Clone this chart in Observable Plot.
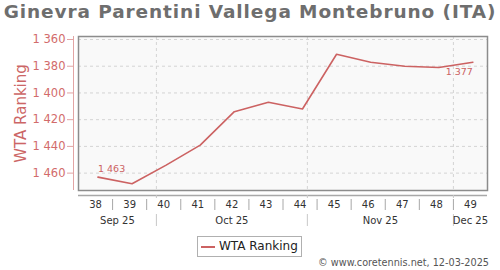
<!DOCTYPE html>
<html>
<head>
<meta charset="utf-8">
<script src="https://cdn.jsdelivr.net/npm/d3@7"></script>
<script src="https://cdn.jsdelivr.net/npm/@observablehq/plot@0.6"></script>
<style>
  html, body { margin: 0; padding: 0; background: #fff; }
  body { width: 500px; height: 270px; position: relative; overflow: hidden; font-family: "DejaVu Sans", sans-serif; }
  #title { position: absolute; left: 0; top: 1px; width: 500px; text-align: center; font-weight: bold; font-size: 18.5px; letter-spacing: 0.9px; line-height: 22px; color: #6e6e6e; white-space: nowrap; }
  #chart { position: absolute; left: 0; top: 28px; }
  #legend { position: absolute; left: 197px; top: 236px; width: 105px; height: 21px; box-sizing: border-box; border: 1px solid #b0b0b0; background: #fff; }
  #legend .sw { position: absolute; left: 3px; top: 9px; width: 14px; height: 2px; }
  #legend .lb { position: absolute; left: 21px; top: 1px; font-size: 12px; line-height: 17px; color: #222; }
  #credit { position: absolute; right: 11px; top: 256px; font-size: 9.7px; line-height: 13px; color: #555; white-space: nowrap; }
</style>
</head>
<body>
<div id="title"></div>
<div id="chart"></div>
<div id="legend"><span class="sw"></span><span class="lb"></span></div>
<div id="credit"></div>
<script>
// ---- data ----
const title = "Ginevra Parentini Vallega Montebruno (ITA)";
const seriesName = "WTA Ranking";
const credit = "© www.coretennis.net, 12-03-2025";
const year = 2025;
const weeks = [38, 39, 40, 41, 42, 43, 44, 45, 46, 47, 48, 49];
const ranks = [1463, 1468, 1454, 1439, 1414, 1407, 1412, 1371, 1377, 1380, 1381, 1377];
const yTicks = [1360, 1380, 1400, 1420, 1440, 1460];

// ---- derived ----
const lineColor = "#cc6262";
const weekMonday = w => new Date(Date.UTC(year - 1, 11, 30 + 7 * (w - 1)));
const DAY = 864e5;
const data = weeks.map((w, i) => ({week: w, rank: ranks[i], date: new Date(+weekMonday(w) + 4 * DAY)}));
const x0 = weekMonday(weeks[0]);
const x1 = new Date(+weekMonday(weeks[weeks.length - 1]) + 7 * DAY);
const weekCenters = weeks.map(w => ({week: w, date: new Date(+weekMonday(w) + 3.5 * DAY)}));
const weekBounds = weeks.slice(1).map(w => weekMonday(w));
const monthStarts = d3.utcMonth.range(new Date(+x0 + 1), x1);
const months = d3.utcMonth.range(d3.utcMonth.floor(x0), x1).map(m => {
  const a = Math.max(+m, +x0), b = Math.min(+d3.utcMonth.offset(m, 1), +x1);
  return {date: new Date((a + b) / 2), label: d3.utcFormat("%b %y")(m)};
});
const fmt = d => d3.format(",")(d).replace(/,/g, " ");
const yDomain = [1357.75, 1473];

document.getElementById("title").textContent = title;
document.querySelector("#legend .lb").textContent = seriesName;
document.querySelector("#legend .sw").style.background = lineColor;
document.getElementById("credit").textContent = credit;

const chart = Plot.plot({
  width: 500,
  height: 206,
  marginTop: 8,
  marginBottom: 44,
  marginLeft: 78,
  marginRight: 13,
  style: {fontFamily: "DejaVu Sans, sans-serif", background: "transparent", overflow: "visible"},
  x: {type: "utc", domain: [x0, x1]},
  y: {domain: yDomain, reverse: true},
  marks: [
    Plot.frame({fill: "#f9f9f9"}),
    Plot.gridY(yTicks, {stroke: "#d4d4d4", strokeOpacity: 1, strokeDasharray: "3,3"}),
    Plot.gridX(monthStarts, {stroke: "#d4d4d4", strokeOpacity: 1, strokeDasharray: "3,3"}),
    Plot.frame({stroke: "#8c8c8c", strokeWidth: 1.5}),
    // y axis
    Plot.ruleX([x0], {stroke: "#e2a4a4", dx: -5}),
    Plot.axisY(yTicks, {anchor: "left", tickSize: 6, tickPadding: 2, dx: -5, stroke: "#e2a4a4", fill: "#d26b6b", fontSize: 11.5, tickFormat: fmt, label: null}),
    Plot.text([seriesName], {frameAnchor: "left", textAnchor: "middle", lineAnchor: "middle", dx: -57, rotate: -90, fontSize: 15, fill: "#cc6666", text: d => d}),
    // x axis
    Plot.ruleY([yDomain[1]], {dy: 5, stroke: "#a8a8a8", strokeWidth: 1.5}),
    Plot.axisX(monthStarts, {anchor: "bottom", tickSize: 3, dy: 5, stroke: "#c8c8c8", tickFormat: () => "", label: null}),
    Plot.axisX(weekBounds, {anchor: "bottom", tickSize: 11, dy: 9, stroke: "#a8a8a8", tickFormat: () => "", label: null}),
    Plot.axisX(monthStarts, {anchor: "bottom", tickSize: 12, dy: 24, stroke: "#c8c8c8", tickFormat: () => "", label: null}),
    Plot.text(weekCenters, {x: "date", text: d => String(d.week), frameAnchor: "bottom", lineAnchor: "middle", dy: 14.7, fontSize: 10, fill: "#333"}),
    Plot.text(months, {x: "date", text: "label", frameAnchor: "bottom", lineAnchor: "middle", dy: 30.7, fontSize: 10, fill: "#333"}),
    // series
    Plot.line(data, {x: "date", y: "rank", stroke: lineColor, strokeWidth: 1.6}),
    Plot.text(data, Plot.selectFirst({x: "date", y: "rank", text: d => fmt(d.rank), textAnchor: "start", dy: -8.5, fontSize: 9.5, fill: lineColor})),
    Plot.text(data, Plot.selectLast({x: "date", y: "rank", text: d => fmt(d.rank), textAnchor: "end", dy: 9.5, fontSize: 9.5, fill: lineColor}))
  ]
});
document.getElementById("chart").appendChild(chart);
</script>
</body>
</html>
